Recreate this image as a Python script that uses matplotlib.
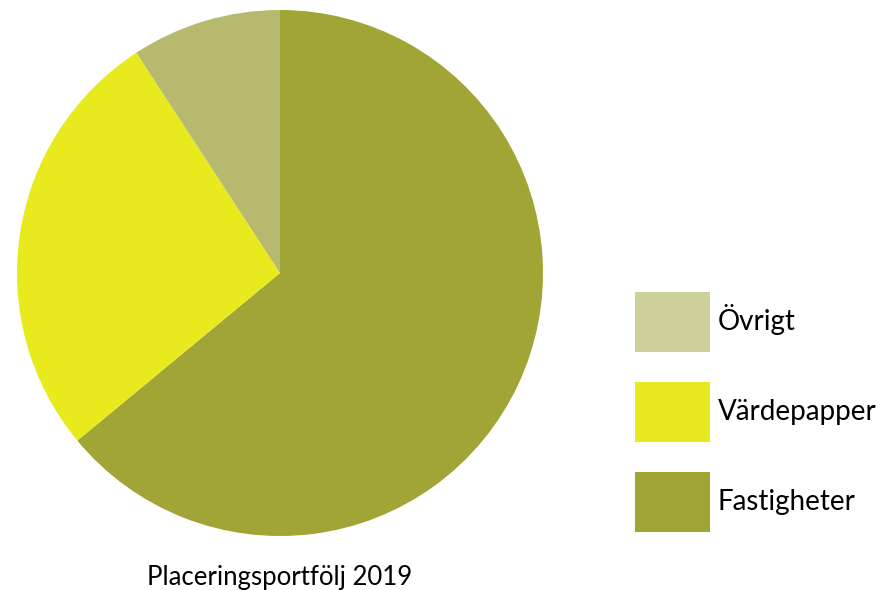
import matplotlib
matplotlib.use("Agg")
import matplotlib.pyplot as plt
from matplotlib.patches import Patch

labels = ["Fastigheter", "Värdepapper", "Övrigt"]
values = [64.0, 26.8, 9.2]
pie_colors = ["#A0A535", "#E8EA1E", "#B7BA6E"]
legend_colors = ["#A0A535", "#E8EA1E", "#CDD09B"]
title = "Placeringsportfölj 2019"

plt.rcParams['font.family'] = ['Lato', 'DejaVu Sans']

W, H = 882, 590
fig = plt.figure(figsize=(W/100, H/100), dpi=100)
cx, cy, r = 280, 273, 263
ax = fig.add_axes([(cx - r)/W, (H - cy - r)/H, 2*r/W, 2*r/H])
ax.pie(values, colors=pie_colors, startangle=90, counterclock=False,
       wedgeprops=dict(linewidth=0), radius=1)
ax.set_xlim(-1, 1)
ax.set_ylim(-1, 1)
ax.set_aspect('equal')
ax.axis('off')

fs = 20
px = 72 / 100  # points per pixel
patch_h = 60 * px
pitch = 90 * px
hh = (patch_h / fs - 0.245) / 0.65
ls = (pitch - patch_h) / fs

handles = [Patch(facecolor=c, edgecolor='none') for c in legend_colors[::-1]]
leg = fig.legend(handles, labels[::-1], loc='upper left',
                 bbox_to_anchor=(635/W, 1 - 292/H), bbox_transform=fig.transFigure,
                 frameon=False, fontsize=fs, borderpad=0, borderaxespad=0,
                 handlelength=75*px/fs, handleheight=hh,
                 labelspacing=ls, handletextpad=8*px/fs)

fig.text(280/W, 1 - 578/H, title, ha='center', va='center', fontsize=18.5)

fig.savefig("out.png", dpi=100)
